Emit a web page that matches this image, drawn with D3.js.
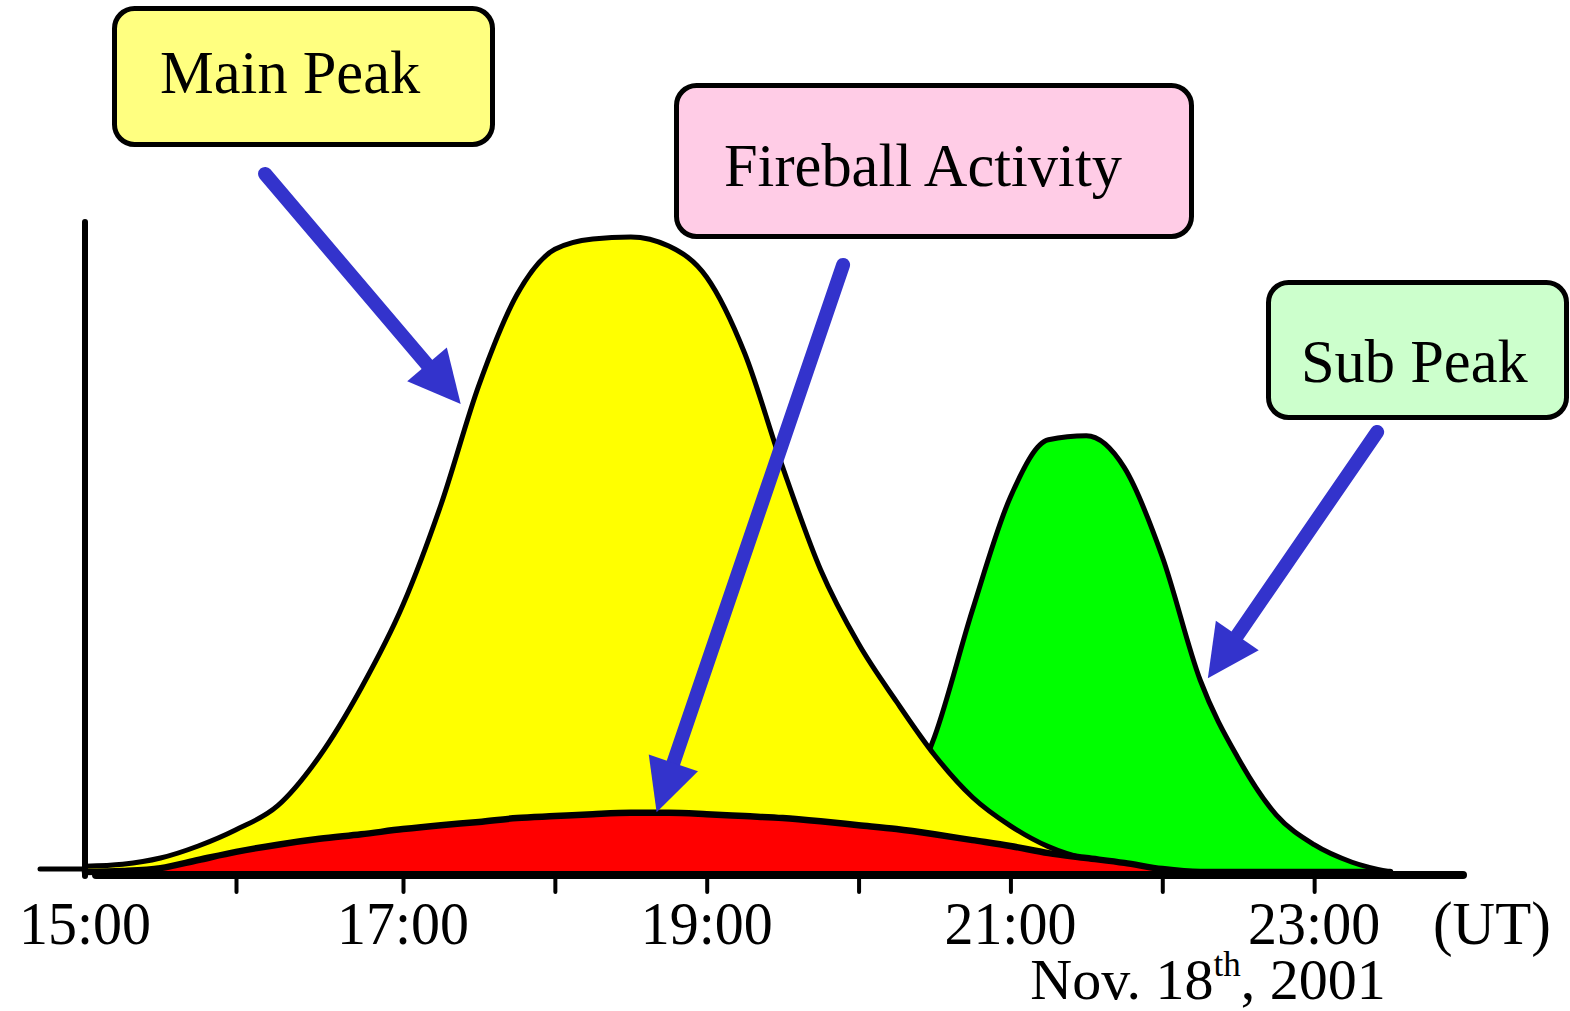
<!DOCTYPE html>
<html><head><meta charset="utf-8">
<script src="https://cdn.jsdelivr.net/npm/d3@7"></script>
<style>
html,body{margin:0;padding:0;background:#fff;}
svg{display:block;}
text{font-family:"Liberation Serif","Times New Roman",serif;fill:#000;}
</style></head><body>
<svg id="chart" width="1570" height="1011"></svg>
<script>
// ---- data (hours UT, relative activity, each curve measured from zero) ----
const times = d3.range(0, 35).map(i => 15 + i * 0.25);
const fireball = [0,0.15,0.6,1.85,3.1,4.2,5.1,5.8,6.6,7.2,7.7,8.3,8.6,8.9,9.1,9.1,8.9,8.6,8.3,7.8,7.2,6.6,5.8,4.9,4.0,2.9,2.15,1.4,0.45,0,0,0,0,0,0];
const mainPeak = [0.9,1.2,2.15,4.0,6.5,10.2,17.8,28.3,41.1,56.5,74.9,88.8,95.8,97.4,97.7,96.3,91.5,79.8,62.3,46.5,35.1,26.2,18.0,11.5,7.1,3.9,2.0,1.2,0.3,0,0,0,0,0,0];
const subPeak = [0,0,0,0,0,0,0,0,0,0,0,0,0,0,0,0,0,0,0,0,0.5,8.3,20.8,40.3,57.7,66.5,67.1,62.2,48.5,29.5,17.5,8.8,4.2,1.5,0];
const seriesNames = ["Sub Peak","Main Peak","Fireball Activity"];
const seriesColors = ["#00ff00","#ffff00","#ff0000"];
const tickHours = [16,17,18,19,20,21,22,23];
const labelHours = [15,17,19,21,23];
const tickLabels = ["15:00","17:00","19:00","21:00","23:00"];
const unitLabel = "(UT)";
const dateParts = ["Nov. 18", "th", ", 2001"];
const boxTexts = ["Main Peak","Fireball Activity","Sub Peak"];
const boxFills = ["#ffff80","#ffcce6","#ccffcc"];
const arrowFrom = [[16.174,107.4],[19.898,93.4],[23.415,67.7]];
const arrowTo = [[17.38,72.0],[18.67,9.2],[22.30,29.8]];

// ---- layout ----
const svg = d3.select("#chart");
const x = d3.scaleLinear().domain([15,16,17,24]).range([85,236,403,1466]);
const y = d3.scaleLinear().domain([0,100]).range([872,222]);

const series = [subPeak, mainPeak, fireball];
const area = d3.area().x((d,i)=>x(times[i])).y0(y(0)).y1(d=>y(d)).curve(d3.curveMonotoneX);
const line = d3.line().x((d,i)=>x(times[i])).y(d=>y(d)).curve(d3.curveMonotoneX);
const widths = [5,5,6.5];

// back to front: sub peak, main peak, fireball
series.forEach((vals,k)=>{
  const g = svg.append("g").attr("class","series").attr("data-name",seriesNames[k]);
  g.append("path").attr("d", area(vals)).attr("fill", seriesColors[k]);
  g.append("path").attr("d", line(vals)).attr("fill","none")
    .attr("stroke","#000").attr("stroke-width",widths[k])
    .attr("stroke-linejoin","round").attr("stroke-linecap","round");
});

// axes
svg.append("line").attr("x1",40).attr("x2",x(15)).attr("y1",869).attr("y2",869)
  .attr("stroke","#000").attr("stroke-width",5).attr("stroke-linecap","round");
svg.append("line").attr("x1",x(15)+11).attr("x2",x(24)-3).attr("y1",875).attr("y2",875)
  .attr("stroke","#000").attr("stroke-width",8).attr("stroke-linecap","round");
svg.append("line").attr("x1",x(15)).attr("x2",x(15)).attr("y1",y(100)).attr("y2",876)
  .attr("stroke","#000").attr("stroke-width",6).attr("stroke-linecap","round");

const axis = d3.axisBottom(x).tickValues(tickHours).tickSize(16).tickFormat("");
const gAx = svg.append("g").attr("transform","translate(0,876)").call(axis);
gAx.select(".domain").remove();
gAx.selectAll(".tick line").attr("stroke","#000").attr("stroke-width",4).attr("stroke-linecap","round");

function condense(sel, f){
  sel.each(function(){
    const L = this.getComputedTextLength();
    d3.select(this).attr("textLength", L*f).attr("lengthAdjust","spacingAndGlyphs");
  });
}

const lbl = svg.append("g").selectAll("text").data(labelHours).join("text")
  .attr("x", h=>x(h)).attr("y", 944).attr("text-anchor","middle")
  .attr("font-size", 62).text((h,i)=>tickLabels[i]);
condense(lbl, 0.935);

const ut = svg.append("text").attr("x",1433).attr("y",944).attr("font-size",62).text(unitLabel);
condense(ut, 0.95);

const dt = svg.append("text").attr("x",1208).attr("y",999).attr("text-anchor","middle").attr("font-size",58);
dt.append("tspan").text(dateParts[0]);
dt.append("tspan").attr("font-size",35).attr("dy",-23).text(dateParts[1]);
dt.append("tspan").attr("dy",23).text(dateParts[2]);

// annotation boxes
const boxes = [
  {x:114.5,y:8.5,w:378,h:136,tx:160,ty:93},
  {x:676.5,y:85.5,w:515,h:151,tx:724,ty:186},
  {x:1268.5,y:282.5,w:298,h:135,tx:1301,ty:382}
];
boxes.forEach((b,i)=>{
  svg.append("rect").attr("x",b.x).attr("y",b.y).attr("width",b.w).attr("height",b.h)
    .attr("rx",20).attr("ry",20).attr("fill",boxFills[i]).attr("stroke","#000").attr("stroke-width",5);
  const t = svg.append("text").attr("x",b.tx).attr("y",b.ty).attr("font-size",62).text(boxTexts[i]);
  condense(t, 0.975);
});

// arrows
const blue = "#3333cc";
arrowFrom.forEach((f,i)=>{
  const p0=[x(f[0]),y(f[1])], p1=[x(arrowTo[i][0]),y(arrowTo[i][1])];
  const dx=p1[0]-p0[0], dy=p1[1]-p0[1], L=Math.hypot(dx,dy);
  const u=[dx/L,dy/L], n=[-u[1],u[0]];
  const hl=52, hw=26;
  const b=[p1[0]-u[0]*hl, p1[1]-u[1]*hl];
  svg.append("line").attr("x1",p0[0]).attr("y1",p0[1]).attr("x2",b[0]+u[0]*4).attr("y2",b[1]+u[1]*4)
    .attr("stroke",blue).attr("stroke-width",14).attr("stroke-linecap","round");
  svg.append("path").attr("d",`M${p1[0]},${p1[1]}L${b[0]+n[0]*hw},${b[1]+n[1]*hw}L${b[0]-n[0]*hw},${b[1]-n[1]*hw}Z`)
    .attr("fill",blue);
});
</script>
</body></html>
